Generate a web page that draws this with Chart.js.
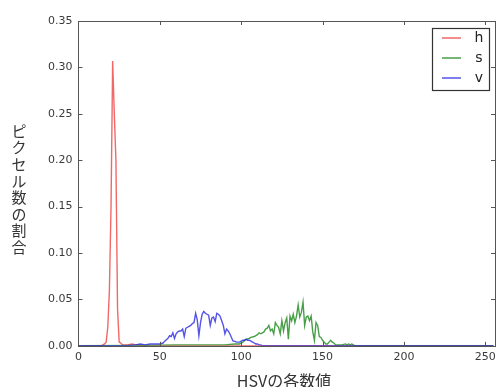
<!DOCTYPE html>
<html>
<head>
<meta charset="utf-8">
<script src="https://cdn.jsdelivr.net/npm/chart.js@4/dist/chart.umd.min.js"></script>
<style>
  html, body { margin: 0; padding: 0; background: #fff; overflow: hidden; }
  #wrap { width: 496px; height: 387px; overflow: hidden; }
</style>
</head>
<body>
<div id="wrap"><canvas id="histChart" width="510" height="387"></canvas></div>
<script>
// Histogram of HSV channels (fraction of pixels per value)
const hBins = [0, 14, 15, 16, 17, 18, 19, 20, 21, 22, 23, 24, 25, 26, 27, 30, 33, 35, 40, 255];
const hVals = [0, 0, 0.001, 0.002, 0.004, 0.02, 0.06, 0.15, 0.307, 0.25, 0.2, 0.04, 0.004, 0.003, 0.001, 0.001, 0.002, 0.001, 0, 0];

const sBins = [0, 40, 60, 75, 90, 96, 99, 101, 103, 105, 106, 108, 109, 110, 111, 112, 113, 114, 115, 116, 117, 118, 119, 120,
  121, 122, 123, 124, 125, 126, 127, 128, 129, 130, 131, 132, 133, 134, 135, 136, 137, 138, 139, 140, 141, 142, 143, 144,
  145, 146, 147, 148, 149, 150, 151, 152, 153, 154, 155, 156, 157, 158, 160, 162, 164, 165, 166, 167, 168, 170, 255];
const sVals = [0, 0.0005, 0.001, 0.001, 0.001, 0.002, 0.002, 0.004, 0.007, 0.008, 0.009, 0.01, 0.011, 0.012, 0.014, 0.013, 0.014, 0.015, 0.018, 0.019, 0.022, 0.016, 0.018, 0.013,
  0.025, 0.022, 0.02, 0.013, 0.027, 0.016, 0.025, 0.03, 0.007, 0.032, 0.027, 0.034, 0.025, 0.032, 0.044, 0.031, 0.036, 0.047,
  0.022, 0.031, 0.032, 0.027, 0.032, 0.015, 0.006, 0.025, 0.022, 0.01, 0.009, 0.006, 0.004, 0.002, 0.002, 0.004, 0.006, 0.004, 0.003, 0.001,
  0.001, 0.001, 0.002, 0.001, 0.002, 0.001, 0.002, 0, 0];

const vBins = [0, 30, 35, 38, 41, 44, 47, 50, 52, 53, 55, 56, 57, 58, 59, 60, 61, 62, 63, 64, 65, 66, 67, 68, 69, 70, 71, 72, 73, 74,
  75, 76, 77, 78, 79, 80, 81, 82, 83, 84, 85, 86, 87, 88, 89, 90, 91, 92, 93, 94, 95, 96, 97, 98, 99, 100, 101, 102, 103, 104,
  105, 106, 107, 108, 109, 110, 111, 112, 113, 255];
const vVals = [0, 0, 0.001, 0.002, 0.001, 0.002, 0.002, 0.002, 0.003, 0.005, 0.008, 0.011, 0.01, 0.014, 0.008, 0.013, 0.015, 0.016, 0.016, 0.018, 0.01, 0.019, 0.02, 0.021, 0.022, 0.024, 0.025, 0.035, 0.028, 0.011,
  0.025, 0.034, 0.037, 0.035, 0.034, 0.033, 0.022, 0.03, 0.031, 0.026, 0.035, 0.034, 0.032, 0.027, 0.022, 0.013, 0.018, 0.016, 0.013, 0.009, 0.005, 0.005, 0.004, 0.004, 0.004, 0.005, 0.006, 0.006, 0.007, 0.006,
  0.006, 0.005, 0.004, 0.003, 0.002, 0.002, 0.001, 0.001, 0, 0];

const xTicks = [0, 50, 100, 150, 200, 250];
const yTicks = [0, 0.05, 0.1, 0.15, 0.2, 0.25, 0.3, 0.35];
const seriesLabels = ['h', 's', 'v'];
const xTitle = 'HSVの各数値';
const yTitle = 'ピクセル数の割合';

const colors = ['rgba(235, 40, 40, 0.7)', 'rgba(25, 135, 25, 0.8)', 'rgba(25, 25, 225, 0.75)'];

function toPoints(xs, ys) {
  return xs.map((x, i) => ({ x: x, y: ys[i] }));
}

// Spines, inward ticks, axis titles and framed legend, matplotlib style
const decorPlugin = {
  id: 'decor',
  afterDraw(chart) {
    const ctx = chart.ctx;
    const a = chart.chartArea;
    const xs = chart.scales.x;
    const ys = chart.scales.y;
    ctx.save();
    ctx.strokeStyle = '#555';
    ctx.lineWidth = 1;
    ctx.strokeRect(Math.round(a.left) + 0.5, Math.round(a.top) + 0.5,
      Math.round(a.right - a.left), Math.round(a.bottom - a.top));

    const tl = 4;
    ctx.beginPath();
    xTicks.forEach(v => {
      const px = Math.round(xs.getPixelForValue(v)) + 0.5;
      ctx.moveTo(px, a.bottom); ctx.lineTo(px, a.bottom - tl);
      ctx.moveTo(px, a.top); ctx.lineTo(px, a.top + tl);
    });
    yTicks.forEach(v => {
      const py = Math.round(ys.getPixelForValue(v)) + 0.5;
      ctx.moveTo(a.left, py); ctx.lineTo(a.left + tl, py);
      ctx.moveTo(a.right, py); ctx.lineTo(a.right - tl, py);
    });
    ctx.stroke();

    // axis titles
    ctx.fillStyle = '#333';
    ctx.textAlign = 'center';
    ctx.textBaseline = 'middle';
    ctx.font = '16px "Noto Sans CJK JP", sans-serif';
    ctx.fillText(xTitle, 284, 381);
    ctx.font = '15px "Noto Sans CJK JP", sans-serif';
    [...yTitle].forEach((ch, i) => {
      ctx.fillText(ch, 19, 131 + i * 16.6);
    });

    // legend
    const lx = 432, ly = 28, lw = 57, lh = 62;
    ctx.fillStyle = '#fff';
    ctx.fillRect(lx, ly, lw, lh);
    ctx.strokeStyle = '#333';
    ctx.lineWidth = 1.2;
    ctx.strokeRect(lx + 0.5, ly + 0.5, lw, lh);
    ctx.font = '14px "DejaVu Sans", sans-serif';
    ctx.textAlign = 'center';
    chart.data.datasets.forEach((ds, i) => {
      const y = 38 + i * 20;
      ctx.strokeStyle = ds.borderColor;
      ctx.lineWidth = 1.5;
      ctx.beginPath();
      ctx.moveTo(442, y); ctx.lineTo(461, y);
      ctx.stroke();
      ctx.fillStyle = '#222';
      ctx.fillText(ds.label, 479, y);
    });
    ctx.restore();
  }
};

const datasets = [
  { label: seriesLabels[0], data: toPoints(hBins, hVals), borderColor: colors[0], order: 3 },
  { label: seriesLabels[1], data: toPoints(sBins, sVals), borderColor: colors[1], order: 2 },
  { label: seriesLabels[2], data: toPoints(vBins, vVals), borderColor: colors[2], order: 1 }
].map(d => Object.assign(d, { borderWidth: 1.4, pointRadius: 0, tension: 0, fill: false }));

new Chart(document.getElementById('histChart'), {
  type: 'line',
  data: { datasets: datasets },
  options: {
    responsive: false,
    animation: false,
    layout: { padding: { left: 42, top: 21, right: 15, bottom: 18 } },
    plugins: { legend: { display: false }, tooltip: { enabled: false } },
    scales: {
      x: {
        type: 'linear',
        min: 0,
        max: 256,
        grid: { display: false, drawTicks: false },
        border: { display: false },
        afterBuildTicks: s => { s.ticks = xTicks.map(v => ({ value: v })); },
        ticks: { padding: 5, color: '#3a3a3a', font: { family: 'DejaVu Sans', size: 11 }, maxRotation: 0 }
      },
      y: {
        min: 0,
        max: 0.35,
        grid: { display: false, drawTicks: false },
        border: { display: false },
        afterBuildTicks: s => { s.ticks = yTicks.map(v => ({ value: v })); },
        ticks: { padding: 6, color: '#3a3a3a', font: { family: 'DejaVu Sans', size: 11 },
          callback: v => Number(v).toFixed(2) }
      }
    }
  },
  plugins: [decorPlugin]
});
</script>
</body>
</html>
